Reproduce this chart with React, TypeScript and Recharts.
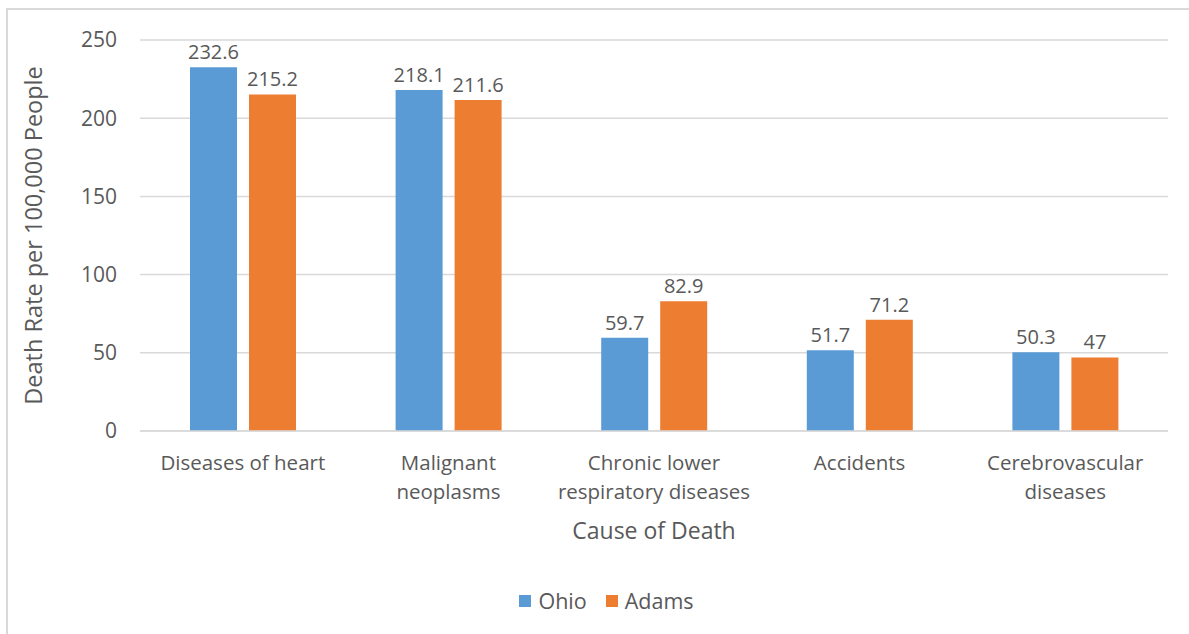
import React from "react";
import {
  BarChart,
  Bar,
  XAxis,
  YAxis,
  CartesianGrid,
  Legend,
  LabelList,
} from "recharts";

const causes = [
  "Diseases of heart",
  "Malignant\nneoplasms",
  "Chronic lower\nrespiratory diseases",
  "Accidents",
  "Cerebrovascular\ndiseases",
];
const ohio = [232.6, 218.1, 59.7, 51.7, 50.3];
const adams = [215.2, 211.6, 82.9, 71.2, 47];
const yTicks = [0, 50, 100, 150, 200, 250];

const BLUE = "#5B9BD5";
const ORANGE = "#ED7D31";
const TEXT = "#595959";
const GRID = "#D9D9D9";
const FONT = "'Open Sans', sans-serif";

const data = causes.map((c, i) => ({ cause: c, Ohio: ohio[i], Adams: adams[i] }));

const CauseTick = ({ x, y, payload }: any) => {
  const lines = String(payload.value).split("\n");
  return (
    <text x={x} y={y + 23} textAnchor="middle" dominantBaseline="central" fill={TEXT} fontSize={20.5} fontFamily={FONT}>
      {lines.map((l, i) => (
        <tspan key={i} x={x} dy={i === 0 ? 0 : 29}>
          {l}
        </tspan>
      ))}
    </text>
  );
};

const YTitle = ({ viewBox }: any) => {
  const cx = viewBox.x + 13;
  const cy = viewBox.y + viewBox.height / 2;
  return (
    <text
      x={cx}
      y={cy}
      transform={`rotate(-90, ${cx}, ${cy})`}
      textAnchor="middle"
      dominantBaseline="central"
      fill={TEXT}
      fontSize={23.5}
      fontFamily={FONT}
    >
      Death Rate per 100,000 People
    </text>
  );
};

const CauseTitle = ({ viewBox }: any) => (
  <text
    x={viewBox.x + viewBox.width / 2}
    y={viewBox.y + 99}
    textAnchor="middle"
    dominantBaseline="central"
    fill={TEXT}
    fontSize={23}
    fontFamily={FONT}
  >
    Cause of Death
  </text>
);

const LegendBox = () => (
  <div
    style={{
      height: 63,
      display: "flex",
      justifyContent: "center",
      alignItems: "center",
      paddingBottom: 4,
      paddingLeft: 44,
      boxSizing: "border-box",
      fontFamily: FONT,
      fontSize: 21.5,
      color: TEXT,
    }}
  >
    {[
      ["Ohio", BLUE],
      ["Adams", ORANGE],
    ].map(([name, col]) => (
      <span key={name} style={{ display: "flex", alignItems: "center", marginRight: 19 }}>
        <span style={{ width: 12, height: 12, background: col, marginRight: 7, display: "inline-block" }} />
        {name}
      </span>
    ))}
  </div>
);

export default function App() {
  return (
    <div
      style={{
        position: "fixed",
        left: 0,
        top: 0,
        width: 1189,
        height: 634,
        overflow: "hidden",
        background: "#fff",
      }}
    >
      <div
        style={{
          position: "absolute",
          left: 6,
          top: 8,
          width: 1300,
          height: 800,
          border: `2px solid ${GRID}`,
        }}
      />
      <div style={{ position: "absolute", left: 0, top: 0 }}>
        <BarChart
          width={1189}
          height={634}
          data={data}
          margin={{ top: 40, right: 21, left: 20, bottom: 0 }}
          barSize={47}
          barGap={12}
        >
          <CartesianGrid vertical={false} stroke={GRID} strokeWidth={1.5} />
          <XAxis
            dataKey="cause"
            height={140}
            interval={0}
            tick={<CauseTick />}
            tickLine={false}
            axisLine={{ stroke: GRID, strokeWidth: 1.5 }}
            label={<CauseTitle />}
          />
          <YAxis
            width={120}
            domain={[0, 250]}
            ticks={yTicks}
            tickSize={0}
            tickMargin={23}
            axisLine={false}
            tickLine={false}
            tick={{ fontSize: 21, fill: TEXT, fontFamily: FONT }}
            label={<YTitle />}
          />
          <Legend verticalAlign="bottom" content={<LegendBox />} />
          <Bar dataKey="Ohio" fill={BLUE} isAnimationActive={false}>
            <LabelList dataKey="Ohio" position="top" offset={8} fill={TEXT} fontSize={20} fontFamily={FONT} />
          </Bar>
          <Bar dataKey="Adams" fill={ORANGE} isAnimationActive={false}>
            <LabelList dataKey="Adams" position="top" offset={8} fill={TEXT} fontSize={20} fontFamily={FONT} />
          </Bar>
        </BarChart>
      </div>
    </div>
  );
}
